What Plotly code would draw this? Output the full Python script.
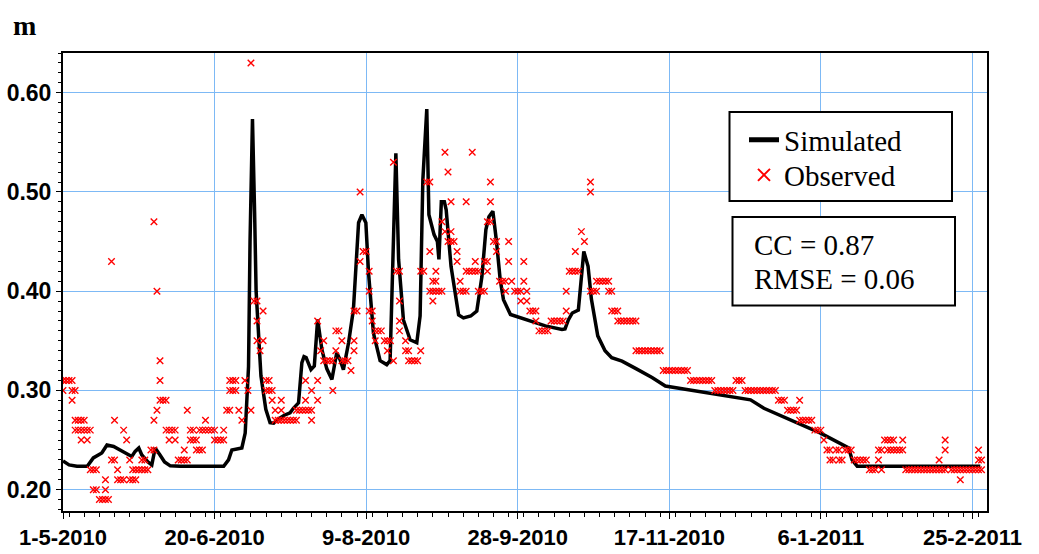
import pandas as pd
import plotly.graph_objects as go

START = pd.Timestamp("2010-05-01")

# Simulated water level (m): day offset from 1-5-2010 and level
sim_day = [0, 2, 4.6, 8, 10, 12.8, 14.5, 16.7, 20, 22.7, 23.8, 25, 26, 28, 29.3, 30.4, 32, 33.5,
           35.4, 38.7, 53, 54.6, 55.7, 59, 60.1, 61.2, 61.7, 62.5, 63.2, 63.7, 65.3, 66.9, 68.3,
           69.5, 71, 73, 74.9, 76, 77.7, 78.8, 79.5, 80.2, 81.8, 82.9, 84, 85.4, 87, 88.7, 90.3,
           91.4, 92.5, 94.2, 95.8, 97.5, 98.6, 99.9, 100.8, 102.4, 104.6, 106.8, 107.9, 108.5,
           109.8, 110.7, 112.3, 114.5, 116.7, 117.8, 118.7, 120, 120.7, 122.4, 123.5, 124,
           124.8, 125.8, 126.4, 128, 130.5, 132.1, 134.5, 136.5, 138.2, 139.5, 140.5, 141.8,
           143, 144.2, 145.3, 147.6, 150.2, 159.1, 164.6, 165.6, 166.7, 168, 170, 171.8, 173.2,
           174.3, 176.4, 178.8, 181, 184.4, 189, 194.3, 198.7, 208.6, 221.8, 226.8, 231.2,
           244.4, 249.9, 259.2, 260.3, 262, 302.6]
sim_level = [0.229, 0.225, 0.2235, 0.2235, 0.232, 0.237, 0.245, 0.2435, 0.238, 0.2335, 0.2386,
             0.242, 0.235, 0.228, 0.225, 0.242, 0.235, 0.228, 0.224, 0.2235, 0.2235, 0.23, 0.24,
             0.242, 0.257, 0.324, 0.45, 0.5735, 0.48, 0.40, 0.3145, 0.281, 0.2675, 0.267, 0.271,
             0.275, 0.2775, 0.282, 0.2875, 0.328, 0.334, 0.333, 0.321, 0.3245, 0.3715, 0.341,
             0.322, 0.311, 0.338, 0.331, 0.321, 0.348, 0.3815, 0.469, 0.477, 0.469, 0.418, 0.358,
             0.33, 0.326, 0.33, 0.398, 0.539, 0.432, 0.371, 0.351, 0.348, 0.375, 0.512, 0.5835,
             0.477, 0.457, 0.450, 0.432, 0.490, 0.490, 0.482, 0.425, 0.376, 0.373, 0.375, 0.38,
             0.415, 0.462, 0.475, 0.4805, 0.45, 0.412, 0.3915, 0.3765, 0.374, 0.365, 0.3615,
             0.362, 0.371, 0.378, 0.381, 0.44, 0.425, 0.392, 0.355, 0.340, 0.333, 0.3295, 0.322,
             0.313, 0.3045, 0.2995, 0.2925, 0.2905, 0.282, 0.264, 0.257, 0.242, 0.230, 0.2235,
             0.2235]

# Observed water level (m), one list of readings per day starting 1-5-2010
observed = [
    [0.31, 0.30], [0.31], [0.31], [0.31, 0.30, 0.29], [0.30, 0.27, 0.26],          # 0-4
    [0.27, 0.26], [0.27, 0.26, 0.25], [0.27, 0.26], [0.26, 0.25], [0.26, 0.22],    # 5-9
    [0.22, 0.20], [0.22, 0.20], [0.19], [0.19], [0.21, 0.20, 0.19],                # 10-14
    [0.19], [0.43, 0.23], [0.27, 0.23], [0.22, 0.21], [0.21],                      # 15-19
    [0.26, 0.21], [0.25], [0.23, 0.21], [0.22, 0.21], [0.22, 0.21],                # 20-24
    [0.22], [0.23, 0.22], [0.23, 0.22], [0.22], [0.24],                            # 25-29
    [0.47, 0.27, 0.24], [0.40, 0.28], [0.33, 0.31, 0.29], [0.29], [0.29, 0.26],    # 30-34
    [0.26, 0.25], [0.26], [0.26, 0.25], [0.23], [0.23],                            # 35-39
    [0.24, 0.23], [0.28, 0.23], [0.26, 0.25], [0.26, 0.25], [0.25, 0.24],          # 40-44
    [0.26, 0.24], [0.26, 0.24], [0.27, 0.26], [0.26], [0.26],                      # 45-49
    [0.26, 0.25], [0.25], [0.25], [0.26, 0.25], [0.28],                            # 50-54
    [0.31, 0.30, 0.28], [0.31, 0.30], [0.31, 0.30], [0.28], [0.27],                # 55-59
    [0.31], [0.30], [0.63, 0.28], [0.39], [0.39, 0.37, 0.35],                      # 60-64
    [0.34], [0.38, 0.35], [0.31, 0.30], [0.31, 0.30], [0.30, 0.29],                # 65-69
    [0.28, 0.27], [0.27], [0.29, 0.28, 0.27], [0.27], [0.27],                      # 70-74
    [0.27], [0.27], [0.28, 0.27], [0.28], [0.28],                                  # 75-79
    [0.31, 0.29, 0.28], [0.28], [0.30, 0.28, 0.27], [], [0.37, 0.31, 0.29],        # 80-84
    [0.34], [0.35, 0.33], [0.33], [0.33], [0.33, 0.30],                            # 85-89
    [0.36, 0.34], [0.36], [0.35, 0.33], [0.33], [0.33],                            # 90-94
    [0.32], [0.38, 0.35, 0.34], [0.38], [0.50, 0.43], [0.44],                      # 95-99
    [0.44], [0.42, 0.40, 0.38], [0.38, 0.37], [0.36, 0.35], [0.36],                # 100-104
    [0.36], [0.35], [0.35, 0.34], [0.35], [0.53, 0.33],                            # 105-109
    [0.42], [0.42, 0.39, 0.37, 0.36], [], [0.35, 0.34], [0.34, 0.33],              # 110-114
    [0.33], [0.33], [0.33], [0.42, 0.34], [0.42],                                  # 115-119
    [0.51], [0.51, 0.44, 0.40], [0.41, 0.40, 0.39], [0.42, 0.41, 0.40], [0.40],    # 120-124
    [0.47, 0.40], [0.54, 0.46], [0.52, 0.45], [0.49, 0.46, 0.45], [0.45],          # 125-129
    [0.44, 0.43], [0.41, 0.40], [0.40], [0.49, 0.42, 0.40], [0.42],                # 130-134
    [0.54, 0.42], [0.43, 0.42], [0.42, 0.40], [0.40], [0.43, 0.40],                # 135-139
    [0.47, 0.43, 0.42], [0.51, 0.49, 0.47], [0.45], [0.45, 0.44], [0.41],          # 140-144
    [0.41], [0.41, 0.40], [0.45, 0.43], [0.41], [0.40],                            # 145-149
    [0.40], [0.40, 0.39], [0.43, 0.41], [0.40, 0.39], [0.38],                      # 150-154
    [0.38], [0.38, 0.37], [0.36], [0.36], [0.36],                                  # 155-159
    [0.36], [0.37], [0.37], [0.37], [0.37],                                        # 160-164
    [0.37], [0.40, 0.38], [0.42], [0.42], [0.44, 0.42],                            # 165-169
    [0.42], [0.46], [0.45], [], [0.51, 0.50, 0.40],                                # 170-174
    [0.40], [0.41, 0.40], [0.41], [0.41], [0.41],                                  # 175-179
    [0.41, 0.40], [0.40, 0.38], [0.38], [0.38, 0.37], [0.37],                      # 180-184
    [0.37], [0.37], [0.37], [0.37], [0.37, 0.34],                                  # 185-189
    [0.34], [0.34], [0.34], [0.34], [0.34],                                        # 190-194
    [0.34], [0.34], [0.34], [0.32], [0.32],                                        # 195-199
    [0.32], [0.32], [0.32], [0.32], [0.32],                                        # 200-204
    [0.32], [0.32], [0.31], [0.31], [0.31],                                        # 205-209
    [0.31], [0.31], [0.31], [0.31], [0.31],                                        # 210-214
    [0.30], [0.30], [0.30], [0.30], [0.30],                                        # 215-219
    [0.30], [0.30], [0.31], [0.31], [0.31],                                        # 220-224
    [0.30], [0.30], [0.30], [0.30], [0.30],                                        # 225-229
    [0.30], [0.30], [0.30], [0.30], [0.30],                                        # 230-234
    [0.30], [0.29], [0.29], [0.29], [0.28],                                        # 235-239
    [0.28], [0.28], [0.28], [0.29, 0.27], [0.27],                                  # 240-244
    [0.27], [0.27], [0.27], [0.26], [0.26],                                        # 245-249
    [0.26], [0.25], [0.24], [0.24, 0.23], [0.23],                                  # 250-254
    [0.24], [0.24, 0.23], [0.23], [0.24], [0.24],                                  # 255-259
    [0.24], [0.23], [0.23], [0.23], [0.23],                                        # 260-264
    [0.23], [0.22], [0.22], [0.22], [0.24, 0.23],                                  # 265-269
    [0.24, 0.22], [0.25], [0.25, 0.24], [0.25, 0.24], [0.25, 0.24],                # 270-274
    [0.24], [0.24], [0.25, 0.24], [0.22], [0.22],                                  # 275-279
    [0.22], [0.22], [0.22], [0.22], [0.22],                                        # 280-284
    [0.22], [0.22], [0.22], [0.22], [0.23, 0.22],                                  # 285-289
    [0.22], [0.25, 0.24, 0.22], [], [0.22], [0.22],                                # 290-294
    [0.22], [0.22, 0.21], [0.22], [0.22], [0.22],                                  # 295-299
    [0.22], [0.22], [0.24, 0.23, 0.22], [0.23, 0.22],                              # 300-303
]

cc_text = "CC = 0.87"
rmse_text = "RMSE = 0.06"

sim_x = START + pd.to_timedelta(sim_day, unit="D")
obs_x, obs_y = [], []
for day, readings in enumerate(observed):
    for v in readings:
        obs_x.append(START + pd.Timedelta(days=day))
        obs_y.append(v)

SERIF = "Liberation Serif, Times New Roman, serif"
SANS = "Liberation Sans, Arial, sans-serif"
GRID = "#7db9f5"
DAY_MS = 86400000

W, H = 1039, 554
ML, MR, MT, MB = 63, 52, 53, 43
PW, PH = W - ML - MR, H - MT - MB


def px(x):
    return (x - ML) / PW


def py(y):
    return (H - MB - y) / PH


fig = go.Figure()
fig.add_trace(go.Scatter(x=sim_x, y=sim_level, mode="lines", name="Simulated",
                         legend="legend",
                         line=dict(color="black", width=3.5)))
fig.add_trace(go.Scatter(x=obs_x, y=obs_y, mode="markers", name="Observed",
                         legend="legend2",
                         marker=dict(symbol="x-thin", size=6.5, color="red",
                                     line=dict(color="red", width=1.4))))

legend_style = dict(xanchor="left", yanchor="middle", bgcolor="rgba(0,0,0,0)",
                    borderwidth=0, itemsizing="constant",
                    font=dict(family=SERIF, size=29, color="black"))

fig.update_layout(
    width=W, height=H,
    margin=dict(l=ML, r=MR, t=MT, b=MB, pad=0, autoexpand=False),
    paper_bgcolor="white", plot_bgcolor="white",
    showlegend=True,
    legend=dict(x=px(744), y=py(140), **legend_style),
    legend2=dict(x=px(744), y=py(175), **legend_style),
    xaxis=dict(type="date", automargin=False,
               range=[START, START + pd.Timedelta(days=304.8)],
               tick0=START, dtick=50 * DAY_MS, tickformat="%-d-%-m-%Y", tickangle=0,
               showgrid=True, gridcolor=GRID, gridwidth=1,
               showline=True, linecolor="black", linewidth=2, mirror=True,
               ticks="outside", ticklen=6, tickcolor="black", tickwidth=1,
               minor=dict(dtick=5 * DAY_MS, ticks="outside", ticklen=4,
                          tickcolor="black", showgrid=False),
               tickfont=dict(family=SANS, size=22, color="black", weight="bold"),
               zeroline=False),
    yaxis=dict(range=[0.1785, 0.64], tick0=0, dtick=0.1, tickformat=".2f",
               automargin=False,
               showgrid=True, gridcolor=GRID, gridwidth=1,
               showline=True, linecolor="black", linewidth=2, mirror=True,
               ticks="outside", ticklen=5, tickcolor="black", tickwidth=1,
               minor=dict(dtick=0.01, ticks="outside", ticklen=3,
                          tickcolor="black", showgrid=False),
               tickfont=dict(family=SANS, size=23, color="black", weight="bold"),
               zeroline=False),
    shapes=[
        dict(type="rect", xref="paper", yref="paper", layer="above",
             x0=px(729.5), x1=px(952), y0=py(201), y1=py(112),
             line=dict(color="black", width=2), fillcolor="white"),
        dict(type="rect", xref="paper", yref="paper", layer="above",
             x0=px(732.5), x1=px(955), y0=py(305.5), y1=py(217),
             line=dict(color="black", width=2), fillcolor="white"),
    ],
    annotations=[
        dict(text="m", xref="paper", yref="paper", x=px(11), y=py(25),
             xanchor="left", yanchor="middle", showarrow=False,
             font=dict(family=SERIF, size=28, color="black", weight="bold")),
        dict(text=cc_text, xref="paper", yref="paper", x=px(752), y=py(245),
             xanchor="left", yanchor="middle", showarrow=False,
             font=dict(family=SERIF, size=29, color="black")),
        dict(text=rmse_text, xref="paper", yref="paper", x=px(752), y=py(279),
             xanchor="left", yanchor="middle", showarrow=False,
             font=dict(family=SERIF, size=29, color="black")),
    ],
)

fig.write_html("out.html")
